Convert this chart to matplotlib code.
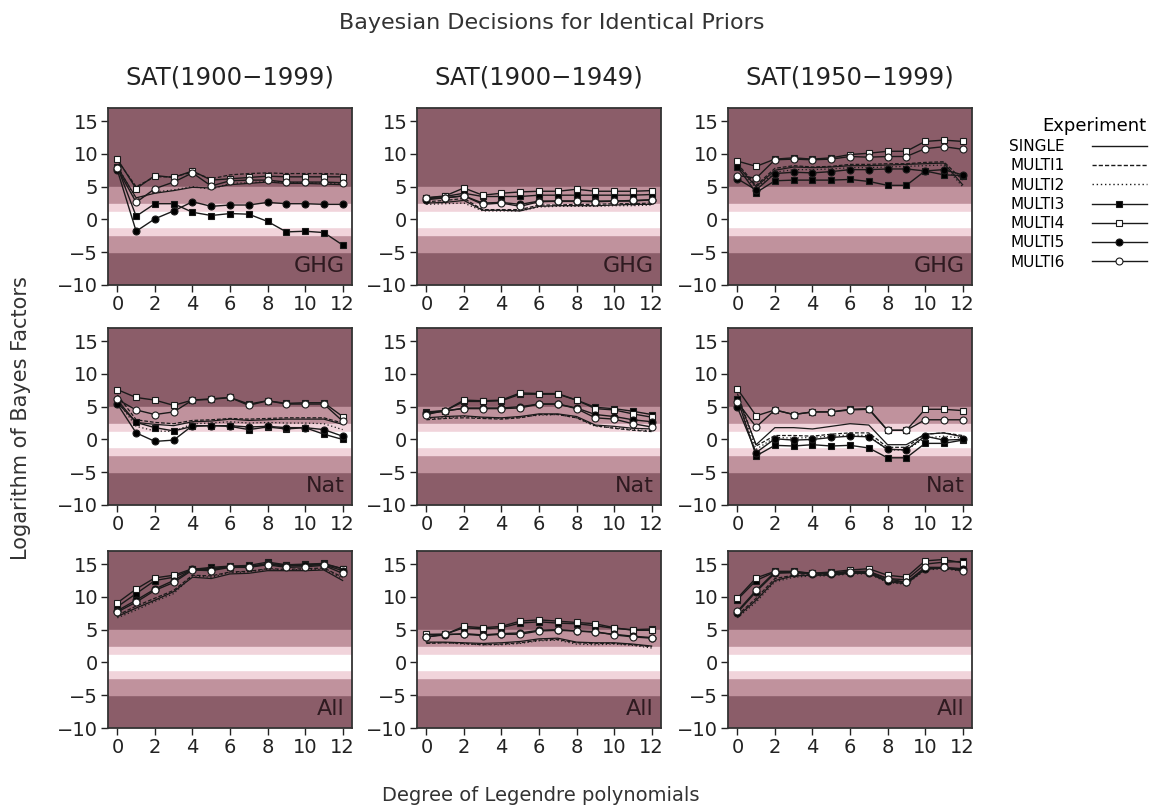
import numpy as np
import matplotlib
matplotlib.use("Agg")
import matplotlib.pyplot as plt
from matplotlib.lines import Line2D

plt.rcParams['font.family'] = ['DejaVu Sans']

degrees = np.arange(13)
experiments = ['SINGLE', 'MULTI1', 'MULTI2', 'MULTI3', 'MULTI4', 'MULTI5', 'MULTI6']
periods = ['SAT(1900\u22121999)', 'SAT(1900\u22121949)', 'SAT(1950\u22121999)']
forcings = ['GHG', 'Nat', 'All']

# log Bayes factors, [forcing][period] -> one list per experiment
ghg_full = [
    [8.0, 3.3, 4.0, 4.4, 4.9, 4.8, 5.3, 5.5, 5.7, 5.5, 5.5, 5.4, 5.3],
    [9.0, 5.0, 6.5, 6.5, 7.2, 6.2, 6.8, 7.0, 7.1, 7.0, 7.0, 7.0, 6.9],
    [8.2, 3.0, 4.2, 4.5, 5.0, 4.6, 5.5, 5.6, 5.8, 5.6, 5.6, 5.5, 5.4],
    [8.0, 0.5, 2.4, 2.4, 1.1, 0.6, 0.9, 0.8, -0.3, -1.9, -1.8, -2.0, -3.9],
    [9.2, 4.7, 6.7, 6.4, 7.4, 6.0, 6.2, 6.4, 6.6, 6.5, 6.5, 6.5, 6.5],
    [7.5, -1.8, 0.1, 1.3, 2.7, 2.0, 2.2, 2.2, 2.6, 2.4, 2.4, 2.3, 2.3],
    [7.8, 2.6, 4.7, 5.7, 7.1, 5.1, 5.9, 6.0, 6.0, 5.7, 5.7, 5.7, 5.6],
]
ghg_early = [
    [2.5, 2.6, 2.9, 1.4, 1.4, 1.3, 2.0, 2.1, 2.1, 2.1, 2.2, 2.3, 2.3],
    [2.7, 2.9, 3.2, 1.5, 1.5, 1.5, 2.2, 2.2, 2.3, 2.3, 2.4, 2.4, 2.5],
    [2.3, 2.4, 2.5, 1.3, 1.3, 1.3, 1.9, 2.0, 2.0, 2.0, 2.1, 2.1, 2.2],
    [3.3, 3.5, 4.0, 3.5, 3.5, 3.5, 3.7, 3.7, 3.7, 3.7, 3.7, 3.7, 3.8],
    [3.3, 3.6, 4.8, 3.7, 4.0, 4.2, 4.3, 4.3, 4.6, 4.3, 4.3, 4.3, 4.4],
    [3.0, 3.3, 3.6, 2.5, 2.6, 2.3, 2.8, 2.8, 2.8, 2.8, 2.8, 2.8, 3.0],
    [3.2, 3.3, 3.6, 2.3, 2.5, 2.0, 2.7, 2.8, 2.8, 2.7, 2.8, 2.9, 3.0],
]
ghg_late = [
    [8.2, 5.0, 7.5, 8.0, 7.9, 8.0, 8.2, 8.2, 8.3, 8.4, 8.5, 8.6, 5.3],
    [8.5, 5.2, 7.8, 8.2, 8.0, 8.1, 8.4, 8.4, 8.5, 8.5, 8.7, 8.8, 6.0],
    [7.8, 4.8, 7.2, 7.6, 7.6, 7.7, 7.9, 7.9, 8.0, 8.1, 8.2, 8.3, 5.0],
    [8.0, 4.1, 5.9, 6.0, 6.0, 6.0, 6.1, 5.8, 5.2, 5.2, 7.4, 6.8, 6.7],
    [8.9, 8.1, 9.2, 9.4, 9.2, 9.4, 9.9, 10.1, 10.4, 10.4, 11.9, 12.1, 11.9],
    [6.2, 4.5, 7.0, 7.2, 7.1, 7.3, 7.6, 7.6, 7.7, 7.7, 7.4, 7.6, 6.8],
    [6.7, 6.3, 9.1, 9.2, 9.1, 9.2, 9.6, 9.5, 9.6, 9.6, 10.8, 11.1, 10.7],
]
nat_full = [
    [6.0, 2.6, 2.3, 2.1, 2.7, 2.8, 3.1, 2.9, 3.0, 3.1, 3.1, 3.1, 2.3],
    [6.8, 3.0, 2.6, 2.4, 2.9, 3.0, 3.2, 3.1, 3.2, 3.3, 3.3, 3.3, 2.5],
    [5.8, 2.0, 1.3, 1.2, 2.4, 2.5, 2.7, 2.5, 2.6, 2.5, 2.5, 2.4, 1.5],
    [5.6, 2.6, 1.8, 1.3, 2.0, 2.1, 2.0, 1.5, 1.9, 1.6, 1.8, 0.8, 0.0],
    [7.6, 6.4, 6.0, 5.2, 6.0, 6.2, 6.4, 5.4, 5.9, 5.5, 5.6, 5.6, 3.5],
    [5.4, 1.0, -0.3, -0.1, 2.1, 2.1, 2.1, 1.9, 2.0, 1.8, 1.8, 1.5, 0.5],
    [6.1, 4.5, 3.8, 4.2, 6.0, 6.1, 6.4, 5.2, 5.9, 5.4, 5.4, 5.4, 2.8],
]
nat_early = [
    [3.3, 3.5, 3.6, 3.4, 3.3, 3.5, 3.9, 3.9, 3.5, 2.2, 2.0, 1.7, 1.6],
    [3.0, 3.2, 3.3, 3.2, 3.1, 3.3, 3.8, 3.8, 3.3, 2.1, 1.7, 1.4, 1.2],
    [3.2, 3.3, 3.5, 3.3, 3.2, 3.4, 3.7, 3.8, 3.3, 2.0, 1.8, 1.5, 1.3],
    [4.2, 4.4, 5.8, 5.8, 5.9, 6.9, 6.9, 6.9, 6.0, 4.9, 4.7, 4.3, 3.8],
    [4.1, 4.4, 6.0, 5.9, 6.0, 7.1, 7.0, 7.0, 6.0, 4.7, 4.5, 3.9, 3.4],
    [4.0, 4.3, 4.8, 4.8, 4.8, 5.0, 5.4, 5.4, 4.8, 3.8, 3.5, 3.0, 2.7],
    [3.8, 4.4, 4.7, 4.7, 4.7, 4.8, 5.4, 5.4, 4.7, 3.3, 3.1, 2.4, 1.9],
]
nat_late = [
    [6.5, -0.8, 1.8, 1.8, 1.6, 2.0, 2.4, 2.2, -0.8, -0.8, 0.8, 1.0, 0.4],
    [7.0, -1.0, 0.6, 0.6, 0.5, 0.8, 1.0, 1.0, -1.2, -1.2, 0.8, 1.0, 0.6],
    [6.0, -1.5, 0.3, 0.2, 0.3, 0.5, 0.7, 0.6, -1.6, -1.6, 0.2, 0.5, 0.2],
    [6.2, -2.5, -0.9, -1.0, -0.8, -1.0, -0.9, -1.3, -2.8, -2.8, -0.6, -0.6, -0.1],
    [7.7, 3.6, 4.5, 3.8, 4.2, 4.2, 4.6, 4.7, 1.4, 1.4, 4.6, 4.6, 4.4],
    [4.9, -2.0, 0.1, -0.1, 0.0, 0.3, 0.5, 0.4, -1.5, -1.6, 0.5, -0.1, 0.0],
    [5.7, 1.9, 4.5, 3.8, 4.2, 4.2, 4.5, 4.6, 1.4, 1.4, 3.0, 3.0, 3.0],
]
all_full = [
    [7.0, 8.3, 9.5, 10.8, 13.0, 12.8, 13.5, 13.6, 14.0, 14.0, 14.0, 14.1, 12.5],
    [7.2, 8.6, 9.8, 11.0, 13.3, 13.2, 13.8, 13.9, 14.3, 14.2, 14.3, 14.4, 13.0],
    [6.8, 8.0, 9.3, 10.5, 13.2, 13.0, 13.7, 13.8, 14.2, 14.1, 14.2, 14.2, 12.8],
    [8.5, 10.5, 12.5, 13.0, 14.2, 14.5, 14.7, 14.8, 15.3, 14.9, 15.0, 15.1, 14.3],
    [9.1, 11.2, 12.9, 13.3, 14.3, 14.3, 14.6, 14.6, 15.1, 14.8, 14.9, 15.0, 14.3],
    [7.9, 9.5, 11.2, 12.5, 14.2, 14.2, 14.6, 14.6, 15.0, 14.7, 14.8, 14.9, 14.0],
    [7.7, 9.2, 11.0, 12.2, 14.1, 14.0, 14.5, 14.5, 14.9, 14.5, 14.6, 14.8, 13.6],
]
all_early = [
    [3.1, 3.1, 3.0, 2.9, 3.0, 3.2, 3.6, 3.7, 3.1, 3.0, 3.0, 2.8, 2.5],
    [2.9, 3.0, 2.9, 2.7, 2.8, 3.0, 3.4, 3.5, 3.0, 2.9, 2.9, 2.7, 2.4],
    [3.0, 3.0, 2.8, 2.7, 2.7, 2.9, 3.3, 3.4, 2.8, 2.7, 2.8, 2.6, 2.2],
    [4.2, 4.3, 5.3, 5.1, 5.3, 6.0, 6.2, 6.0, 5.9, 5.6, 5.2, 5.0, 5.1],
    [4.3, 4.3, 5.5, 5.3, 5.5, 6.3, 6.5, 6.3, 6.1, 5.9, 5.3, 4.9, 4.9],
    [3.9, 4.2, 4.4, 4.2, 4.4, 4.5, 4.9, 5.0, 4.8, 4.6, 4.3, 4.0, 3.8],
    [3.9, 4.3, 4.3, 4.1, 4.3, 4.3, 4.8, 4.9, 4.8, 4.7, 4.2, 3.9, 3.7],
]
all_late = [
    [7.0, 9.5, 12.5, 13.2, 13.3, 13.3, 13.6, 13.6, 12.3, 12.0, 14.2, 14.4, 14.0],
    [7.2, 9.8, 12.8, 13.3, 13.4, 13.4, 13.6, 13.6, 12.4, 12.1, 14.3, 14.5, 14.1],
    [6.8, 9.2, 12.3, 13.0, 13.2, 13.2, 13.5, 13.5, 12.2, 11.9, 14.1, 14.3, 13.9],
    [9.6, 12.5, 13.8, 13.8, 13.6, 13.6, 13.9, 13.9, 12.8, 12.6, 15.0, 15.3, 15.4],
    [9.8, 12.9, 13.9, 13.9, 13.6, 13.8, 14.1, 14.3, 13.3, 13.0, 15.5, 15.7, 15.2],
    [7.6, 10.8, 13.6, 13.7, 13.5, 13.5, 13.7, 13.7, 12.5, 12.2, 14.3, 14.5, 14.3],
    [7.8, 11.0, 13.8, 13.8, 13.6, 13.6, 13.8, 13.8, 12.8, 12.2, 14.5, 14.5, 14.0],
]
panels = [[ghg_full, ghg_early, ghg_late],
          [nat_full, nat_early, nat_late],
          [all_full, all_early, all_late]]

# evidence bands (symmetric about zero)
band_edges = [5.0, 2.3, 1.1]
band_colors = ['#8b5d69', '#c0929d', '#f1d4db']

styles = {
    'SINGLE': dict(ls='-', marker=None),
    'MULTI1': dict(ls=(0, (3, 1.5)), marker=None),
    'MULTI2': dict(ls=(0, (1, 2)), marker=None),
    'MULTI3': dict(ls='-', marker='s', mfc='black'),
    'MULTI4': dict(ls='-', marker='s', mfc='white'),
    'MULTI5': dict(ls='-', marker='o', mfc='black'),
    'MULTI6': dict(ls='-', marker='o', mfc='white'),
}

W, H = 1162, 809
fig = plt.figure(figsize=(W / 100, H / 100), dpi=100)

col_left = [108, 417, 728]
row_top = [108, 328, 551]
aw, ah = 244, 177

for r in range(3):
    for c in range(3):
        ax = fig.add_axes([col_left[c] / W, 1 - (row_top[r] + ah) / H, aw / W, ah / H])
        ax.set_xlim(-0.5, 12.5)
        ax.set_ylim(-10, 17)
        ax.axhspan(-10, 17, color=band_colors[0], zorder=0)
        ax.axhspan(-band_edges[0], band_edges[0], color=band_colors[1], zorder=0)
        ax.axhspan(-band_edges[1], band_edges[1], color=band_colors[2], zorder=0)
        ax.axhspan(-band_edges[2], band_edges[2], color='white', zorder=0)

        for name, vals in zip(experiments, panels[r][c]):
            st = styles[name]
            lw = 0.9 if st['marker'] is None else 1.0
            ax.plot(degrees, vals, color='#1a1a1a', lw=lw, ls=st['ls'],
                    marker=st['marker'], ms=5, mfc=st.get('mfc', 'none'),
                    mec='#1a1a1a', mew=0.8, zorder=3)

        ax.text(0.97, 0.05, forcings[r], transform=ax.transAxes, ha='right',
                va='bottom', fontsize=16, color='#2e1a20')

        ax.set_xticks(range(0, 13, 2))
        ax.set_yticks([-10, -5, 0, 5, 10, 15])
        ax.set_yticklabels(['\u221210', '\u22125', '0', '5', '10', '15'])
        ax.tick_params(direction='out', length=5, width=1, labelsize=14,
                       colors='#222222', pad=2)
        for sp in ax.spines.values():
            sp.set_linewidth(1.3)
            sp.set_color('#333333')

        if r == 0:
            ax.set_title(periods[c], fontsize=17.5, pad=17, color='#222222')

fig.text(0.475, 0.972, 'Bayesian Decisions for Identical Priors', ha='center',
         va='center', fontsize=16, color='#333333')
fig.text(0.018, 0.483, 'Logarithm of Bayes Factors', rotation=90, ha='center',
         va='center', fontsize=15, color='#333333')
fig.text(0.465, 0.017, 'Degree of Legendre polynomials', ha='center',
         va='center', fontsize=14, color='#333333')

handles = []
for name in experiments:
    st = styles[name]
    handles.append(Line2D([], [], color='#1a1a1a', lw=1.0, ls=st['ls'],
                          marker=st['marker'], ms=5, mfc=st.get('mfc', 'none'),
                          mec='#1a1a1a', mew=0.8))
leg = fig.legend(handles, experiments, title='Experiment', markerfirst=False,
                 frameon=False, loc='upper left', bbox_to_anchor=(995 / W, 1 - 103 / H),
                 fontsize=11, title_fontsize=13, handlelength=3.6,
                 labelspacing=0.28, handletextpad=1.8)
leg._legend_box.align = 'right'

fig.savefig('out.png', dpi=100)
